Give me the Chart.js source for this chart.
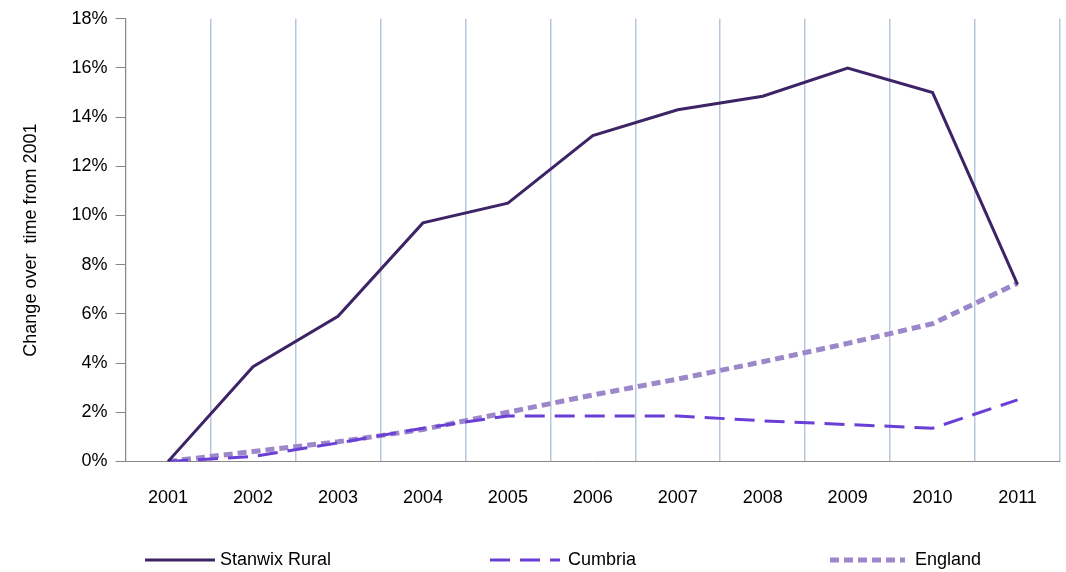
<!DOCTYPE html>
<html><head><meta charset="utf-8">
<script src="https://cdn.jsdelivr.net/npm/chart.js@4/dist/chart.umd.min.js"></script>
<style>html,body{margin:0;padding:0;background:#fff}#w{width:1066px;height:572px}</style>
</head><body><div id="w"><canvas id="c"></canvas></div>
<script>
const categories=['2001','2002','2003','2004','2005','2006','2007','2008','2009','2010','2011'];
const stanwix=[0,3.85,5.9,9.7,10.5,13.25,14.3,14.85,16.0,15.0,7.2];
const cumbria=[0,0.2,0.75,1.35,1.85,1.85,1.85,1.65,1.5,1.35,2.5];
const england=[0,0.4,0.8,1.3,2.0,2.7,3.35,4.05,4.8,5.6,7.25];
const FONT='"Liberation Sans", Arial, sans-serif';
const legendPlugin={id:'lg',afterDraw(ch){
 const ctx=ch.ctx;const items=[[145,215,220,0],[490,560,568,1],[830,905,915,2]];
 ctx.save();ctx.font='18px '+FONT;ctx.textBaseline='middle';ctx.fillStyle='#000';
 items.forEach(([a,b,t,i])=>{const ds=ch.data.datasets[i];ctx.strokeStyle=ds.borderColor;ctx.lineWidth=ds.borderWidth;ctx.setLineDash(ds.borderDash||[]);
 ctx.beginPath();ctx.moveTo(a,560);ctx.lineTo(b,560);ctx.stroke();ctx.fillText(ds.label,t,560);});
 ctx.restore();}};
new Chart(document.getElementById('c'),{type:'line',
data:{labels:categories,datasets:[
 {label:'Stanwix Rural',data:stanwix,borderColor:'#3d2466',borderWidth:3,pointRadius:0,tension:0},
 {label:'Cumbria',data:cumbria,borderColor:'#6a3fd6',borderWidth:3,borderDash:[20,10],pointRadius:0},
 {label:'England',data:england,borderColor:'#9b87c9',borderWidth:5,borderDash:[9,5],pointRadius:0}]},
options:{responsive:true,maintainAspectRatio:false,animation:false,
 layout:{padding:{top:12,right:6,bottom:37,left:16}},
 plugins:{legend:{display:false},tooltip:{enabled:false}},
 scales:{
  x:{offset:true,grid:{offset:true,color:'#b8c8dc',lineWidth:1.5,drawTicks:false},border:{color:'#888'},
     ticks:{font:{size:18,family:FONT},color:'#000',padding:26,maxRotation:0}},
  y:{min:0,max:18,grid:{drawOnChartArea:false,drawTicks:true,tickLength:10,color:'#888'},border:{color:'#888'},
     ticks:{stepSize:2,font:{size:18,family:FONT},color:'#000',padding:8,callback:v=>v+'%'},
     title:{display:true,text:'Change over  time from 2001',font:{size:18,family:FONT},color:'#000',padding:{bottom:22}}}}},
plugins:[legendPlugin]});
</script></body></html>
